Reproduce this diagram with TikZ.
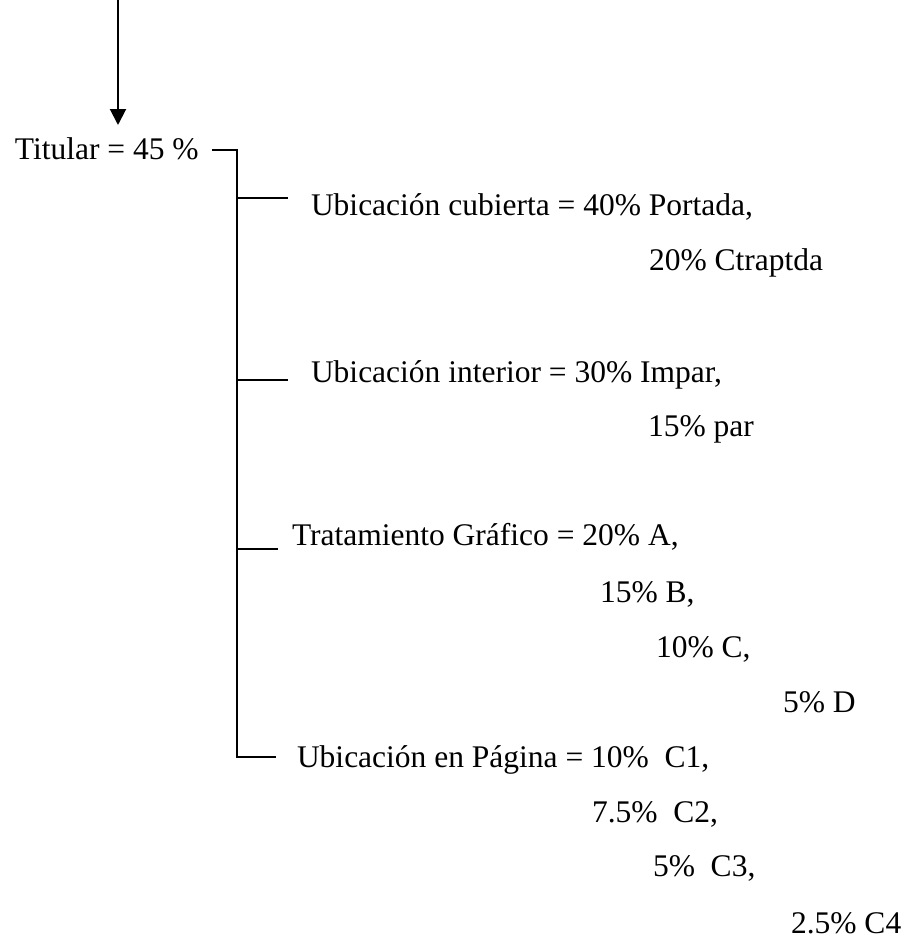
\documentclass[tikz,border=0pt]{standalone}
\usepackage{fontspec}
\setmainfont{Liberation Serif}
\usetikzlibrary{arrows.meta}
\begin{document}
\begin{tikzpicture}[x=1pt,y=-1pt,
  label/.style={anchor=base west,inner sep=0pt,outer sep=0pt,
    font=\fontsize{31.5}{37}\selectfont},
  rule/.style={line width=2pt,line cap=rect},
  feed/.style={line width=2pt,-{Triangle[length=16pt,width=16pt]}}]
  \useasboundingbox (0,0) rectangle (906,938);

  % incoming arrow
  \coordinate (src) at (118,0);
  \coordinate (tip) at (118,125);
  \draw[feed] (src) -- (tip);

  % root and items
  \node[label] (titular) at (15,159) {Titular = 45 \%};

  \node[label] (cub)  at (311,215) {Ubicación cubierta = 40\% Portada,};
  \node[label] (cubB) at (649,270) {20\% Ctraptda};

  \node[label] (int)  at (311,382) {Ubicación interior = 30\% Impar,};
  \node[label] (intB) at (648,436) {15\% par};

  \node[label] (gra)  at (292,545) {Tratamiento Gráfico = 20\% A,};
  \node[label] (graB) at (600,602) {15\% B,};
  \node[label] (graC) at (656,657) {10\% C,};
  \node[label] (graD) at (783,712) {5\% D};

  \node[label] (pag)  at (297,767) {Ubicación en Página = 10\%\ \ C1,};
  \node[label] (pagB) at (592,822) {7.5\%\ \ C2,};
  \node[label] (pagC) at (653,876) {5\%\ \ C3,};
  \node[label] (pagD) at (791,933) {2.5\% C4};

  % bracket joining the root to the four items
  \coordinate (hook)  at (213,150);
  \coordinate (spine) at (237,150);
  \coordinate (s1) at (237,198);  \coordinate (e1) at (287,198);
  \coordinate (s2) at (237,380);  \coordinate (e2) at (287,380);
  \coordinate (s3) at (237,549);  \coordinate (e3) at (277,549);
  \coordinate (s4) at (237,757);  \coordinate (e4) at (275,757);

  \draw[rule] (hook) -- (spine) -- (s4) -- (e4);
  \draw[rule] (s1) -- (e1);
  \draw[rule] (s2) -- (e2);
  \draw[rule] (s3) -- (e3);
\end{tikzpicture}
\end{document}
